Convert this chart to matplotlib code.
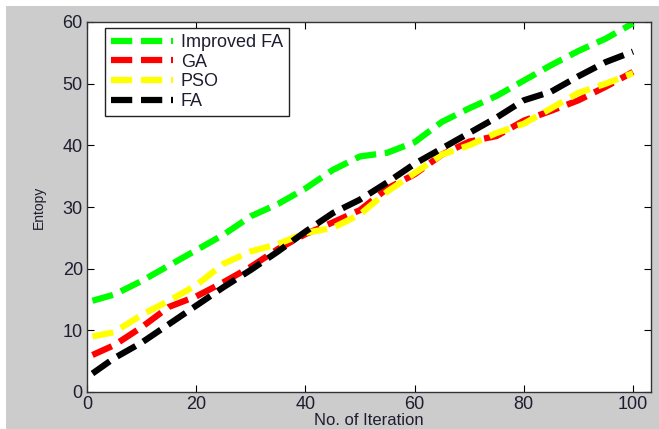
import matplotlib
matplotlib.use("Agg")
import matplotlib.pyplot as plt
from matplotlib.patches import Rectangle

plt.rcParams["font.family"] = ["Liberation Sans", "DejaVu Sans"]

# ── 데이터 ─────────────────────────────────────────
iters = [1, 5, 10, 15, 20, 25, 30, 35, 40, 45, 50,
         55, 60, 65, 70, 75, 80, 85, 90, 95, 100]
improved_fa = [14.8, 15.8, 18.0, 20.5, 23.0, 25.5, 28.5, 30.5, 33.0, 36.0, 38.2,
               38.8, 40.5, 43.8, 46.0, 48.0, 50.5, 53.0, 55.3, 57.3, 59.8]
ga = [6.0, 7.6, 10.5, 13.8, 15.5, 17.8, 20.3, 23.2, 25.6, 27.5, 29.5,
      33.0, 35.3, 38.5, 40.6, 41.5, 44.0, 45.6, 47.3, 49.5, 51.9]
pso = [9.0, 9.7, 12.5, 14.8, 17.3, 20.8, 22.8, 24.0, 25.8, 26.6, 28.8,
       32.5, 35.5, 38.5, 40.0, 42.0, 43.5, 46.0, 48.5, 50.0, 51.7]
fa = [3.0, 5.5, 8.0, 11.0, 14.0, 17.0, 19.8, 22.8, 26.0, 29.0, 31.2,
      34.0, 37.0, 39.5, 42.0, 44.5, 47.3, 48.7, 51.2, 53.5, 55.2]

series = [
    ("Improved FA", improved_fa, "#00ff00"),
    ("GA", ga, "#ff0000"),
    ("PSO", pso, "#ffff00"),
    ("FA", fa, "#000000"),
]

fig = plt.figure(figsize=(6.59, 4.29), dpi=100, facecolor="white")
# 회색 배경 (위/왼쪽 흰 띠 남김)
fig.patches.append(Rectangle((6 / 659, 0), 1, 1 - 6 / 429,
                             transform=fig.transFigure,
                             facecolor="#cccccc", edgecolor="none", zorder=-10))

ax = fig.add_axes([87 / 659, 37 / 429, (651 - 87) / 659, (392 - 22) / 429])
ax.set_facecolor("white")

for name, vals, col in series:
    ax.plot(iters, vals, color=col, lw=4.5, linestyle=(0, (3.4, 1.4)),
            dash_capstyle="butt", label=name)

ax.set_xlim(0, 103.3)
ax.set_ylim(0, 60)
ax.set_xticks([0, 20, 40, 60, 80, 100])
ax.set_yticks([0, 10, 20, 30, 40, 50, 60])
ax.tick_params(direction="in", length=5, labelsize=13,
               labelcolor="#1e1e30", top=True, right=True, pad=3)
for sp in ax.spines.values():
    sp.set_color("#333333")
    sp.set_linewidth(1.0)

ax.set_xlabel("No. of Iteration", fontsize=12, color="#1e1e30", labelpad=0)
ax.set_ylabel("Entopy", fontsize=10, color="#1e1e30", labelpad=12)

leg = ax.legend(loc="upper left", bbox_to_anchor=(0.032, 0.984),
                fontsize=13, handlelength=3.4, handletextpad=0.45,
                labelspacing=0.14, borderpad=0.35, borderaxespad=0,
                fancybox=False, framealpha=1.0, edgecolor="#222222")
leg.get_frame().set_linewidth(1.0)
for t in leg.get_texts():
    t.set_color("#1e1e30")

fig.savefig("out.png", dpi=100, facecolor=fig.get_facecolor())
